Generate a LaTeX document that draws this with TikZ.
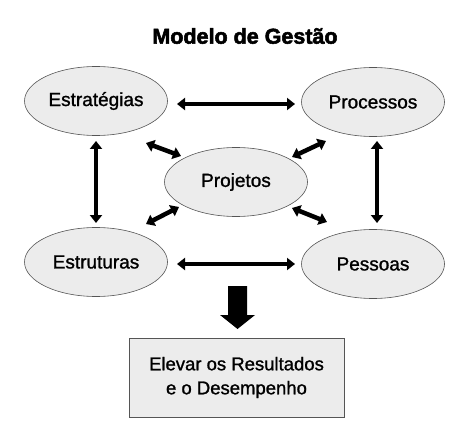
\documentclass[tikz,border=0pt]{standalone}
\usepackage{fontspec}
\setmainfont{Liberation Sans}
\newfontfamily\labfont[FakeBold=1.2]{Liberation Sans}
\newfontfamily\titfont[FakeBold=2.5]{Liberation Sans Bold}
\usetikzlibrary{shapes.geometric,arrows.meta}
\definecolor{fillg}{HTML}{ECECEC}
\definecolor{edgeg}{HTML}{555555}
\tikzset{
  oval/.style={ellipse,draw=edgeg,line width=0.6pt,fill=fillg,minimum width=143pt,minimum height=69pt,inner sep=0pt,font=\labfont\fontsize{19}{20}\selectfont},
  resbox/.style={rectangle,draw=edgeg,line width=0.8pt,fill=fillg,minimum width=215pt,minimum height=79pt,inner sep=0pt,align=center,font=\labfont\fontsize{18.5}{24}\selectfont},
  biarrow/.style={line width=4.5pt,{Triangle[width=12pt,length=8pt]}-{Triangle[width=12pt,length=8pt]}}
}
\begin{document}
\begin{tikzpicture}[x=1pt,y=-1pt]
\useasboundingbox (0,0) rectangle (473,430);
\node[font=\titfont\fontsize{21.5}{24}\selectfont] (title) at (245,36) {Modelo de Gestão};
\node[oval] (est) at (96,101) {Estratégias};
\node[oval] (pro) at (373,102) {Processos};
\node[oval] (prj) at (236,182) {Projetos};
\node[oval] (etr) at (96,262) {Estruturas};
\node[oval] (pes) at (373,264) {Pessoas};
\node[resbox] (res) at (236.5,377.5) {Elevar os Resultados\\e o Desempenho};
% horizontal
\draw[biarrow] (177,104) coordinate (h1a) -- (295,104) coordinate (h1b);
\draw[biarrow] (177,264) coordinate (h2a) -- (295,264) coordinate (h2b);
% vertical
\draw[biarrow] (96,141) coordinate (v1a) -- (96,223) coordinate (v1b);
\draw[biarrow] (377,141) coordinate (v2a) -- (377,223) coordinate (v2b);
% diagonals
\coordinate (d1a) at (146,143); \coordinate (d1b) at (181,156);
\coordinate (d2a) at (326,141); \coordinate (d2b) at (292,157);
\coordinate (d3a) at (146,224); \coordinate (d3b) at (179,207);
\coordinate (d4a) at (292,208); \coordinate (d4b) at (327,222);
\draw[biarrow] (d1a) -- (d1b);
\draw[biarrow] (d2a) -- (d2b);
\draw[biarrow] (d3a) -- (d3b);
\draw[biarrow] (d4a) -- (d4b);
% big down arrow
\fill (228,286) -- (247,286) -- (247,315) -- (255,315) -- (237.5,329) -- (220,315) -- (228,315) -- cycle;
\end{tikzpicture}
\end{document}
